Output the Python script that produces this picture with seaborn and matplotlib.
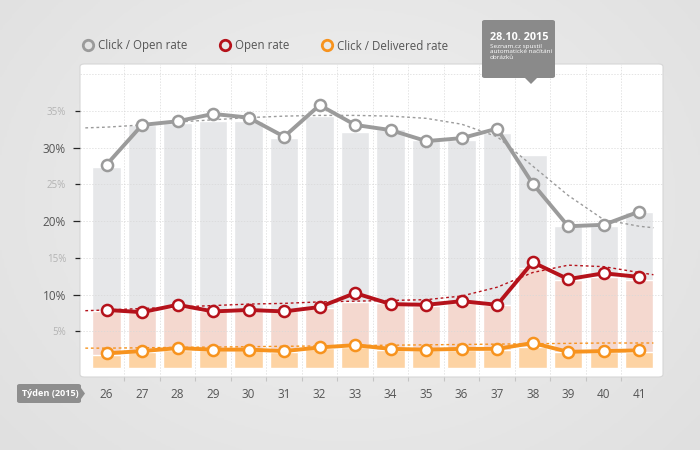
import numpy as np
import matplotlib
matplotlib.use('Agg')
import matplotlib.pyplot as plt
from matplotlib.patches import FancyBboxPatch, Polygon
from matplotlib.lines import Line2D
import seaborn as sns

sns.set_theme(style='white')
plt.rcParams['font.family'] = ['Open Sans', 'DejaVu Sans']

# --- data ---
weeks = [26, 27, 28, 29, 30, 31, 32, 33, 34, 35, 36, 37, 38, 39, 40, 41]

click_open = [27.7, 33.1, 33.6, 34.6, 34.1, 31.5, 35.8, 33.1, 32.4, 30.9, 31.3, 32.6, 25.1, 19.3, 19.5, 21.3]
open_rate = [7.9, 7.6, 8.6, 7.7, 7.9, 7.7, 8.3, 10.2, 8.7, 8.6, 9.1, 8.6, 14.4, 12.1, 12.9, 12.4]
click_deliv = [2.0, 2.3, 2.7, 2.5, 2.5, 2.3, 2.8, 3.1, 2.6, 2.5, 2.6, 2.6, 3.4, 2.2, 2.3, 2.4]

bars_click_open = [27.4, 33.1, 33.4, 33.7, 33.7, 31.3, 34.3, 32.2, 32.6, 31.1, 31.1, 32.0, 29.0, 19.3, 19.3, 21.2]
bars_open = [7.8, 7.7, 8.2, 7.7, 7.7, 7.7, 8.2, 9.0, 8.9, 8.4, 8.9, 8.6, 13.6, 12.0, 12.4, 12.0]
bars_deliv = [1.8, 2.2, 2.45, 2.45, 2.45, 2.2, 2.7, 2.9, 2.45, 2.45, 2.45, 2.45, 2.9, 2.2, 2.2, 2.2]

trend_x = [25.4, 26, 27, 28, 29, 30, 31, 32, 33, 34, 35, 36, 37, 38, 39, 40, 41, 41.4]
trend_click_open = [32.7, 32.8, 33.1, 33.5, 33.8, 34.1, 34.3, 34.4, 34.4, 34.3, 34.0, 33.2, 31.5, 27.5, 23.5, 20.2, 19.3, 19.1]
trend_open = [7.8, 7.9, 8.1, 8.3, 8.5, 8.7, 8.8, 9.0, 9.1, 9.2, 9.3, 9.8, 11.0, 13.0, 14.0, 13.8, 13.0, 12.7]
trend_deliv = [2.7, 2.7, 2.75, 2.8, 2.85, 2.9, 2.95, 3.0, 3.05, 3.1, 3.15, 3.2, 3.25, 3.3, 3.35, 3.4, 3.4, 3.4]

y_ticks = [5, 10, 15, 20, 25, 30, 35]
y_major = [10, 20, 30]

series = [
    ('Click / Open rate', click_open, bars_click_open, trend_click_open, '#9b9b9b', '#e6e7e9'),
    ('Open rate', open_rate, bars_open, trend_open, '#b5121b', '#f4d8cf'),
    ('Click / Delivered rate', click_deliv, bars_deliv, trend_deliv, '#f7931e', '#fdd3a3'),
]

W, H = 700, 450
fig = plt.figure(figsize=(7, 4.5), dpi=100)

# soft grey background
bg = fig.add_axes([0, 0, 1, 1], zorder=-10)
yy, xx = np.mgrid[0:1:200j, 0:1:300j]
rr = np.sqrt((xx - 0.5) ** 2 + ((yy - 0.45) * 0.8) ** 2)
bg.imshow(rr, cmap=sns.light_palette('#dedede', as_cmap=True, reverse=False),
          vmin=0, vmax=0.75, extent=[0, 1, 0, 1], aspect='auto')
bg.axis('off')

# white panel
px0, px1, py0, py1 = 80, 663, 64, 377
panel = FancyBboxPatch((px0 / W, 1 - py1 / H), (px1 - px0) / W, (py1 - py0) / H,
                       boxstyle='round,pad=0,rounding_size=0.006', transform=fig.transFigure,
                       fc='white', ec='#d6d6d6', lw=0.8, zorder=-5)
fig.add_artist(panel)

ax = fig.add_axes([px0 / W, 1 - py1 / H, (px1 - px0) / W, (py1 - py0) / H])
ax.patch.set_alpha(0)

# vertical + horizontal grid
for xv in np.arange(26.5, 41, 1):
    ax.axvline(xv, color='#e4e4e4', lw=0.7, ls=(0, (1.5, 1.5)), zorder=0)

for name, vals, bvals, tvals, col, bcol in series:
    sns.barplot(x=weeks, y=bvals, native_scale=True, width=0.8, color=bcol,
                saturation=1, errorbar=None, ax=ax, zorder=1)

for yv in y_ticks + [40]:
    ax.axhline(yv, color='#d8d8d8', lw=0.7, ls=(0, (1.5, 1.5)), alpha=0.7, zorder=2)

for name, vals, bvals, tvals, col, bcol in series:
    ax.plot(trend_x, tvals, color=col, lw=1.0, ls=(0, (2, 2)), zorder=3)
    sns.lineplot(x=weeks, y=vals, color=col, lw=2.8, marker='o', markersize=8,
                 markerfacecolor='white', markeredgecolor=col, markeredgewidth=1.8,
                 ax=ax, zorder=4)

ax.set_xlim(25.25, 41.67)
ax.set_ylim(-1.23, 41.4)
for s in ax.spines.values():
    s.set_visible(False)
ax.set_xlabel('')
ax.set_ylabel('')

ax.set_xticks(weeks)
ax.set_xticklabels([str(w) for w in weeks])
ax.set_xticks(np.arange(26.5, 41, 1), minor=True)
ax.tick_params(axis='x', which='major', length=0, pad=8, labelsize=8.5, labelcolor='#555555')
ax.tick_params(axis='x', which='minor', length=3, width=0.8, color='#c4c4c4', direction='out', bottom=True)

ax.set_yticks(y_ticks)
ax.set_yticklabels([f'{v}%' for v in y_ticks])
ax.tick_params(axis='y', which='major', left=True, direction='out', length=4, width=0.9, pad=6)
for tick, v in zip(ax.yaxis.get_major_ticks(), y_ticks):
    if v in y_major:
        tick.label1.set_color('#555555')
        tick.label1.set_fontsize(8.5)
        tick.tick1line.set_color('#555555')
        tick.tick1line.set_markersize(5)
    else:
        tick.label1.set_color('#b3b3b3')
        tick.label1.set_fontsize(7)
        tick.tick1line.set_color('#cccccc')
        tick.tick1line.set_markersize(3.5)

# legend
handles = [Line2D([], [], ls='none', marker='o', ms=7.5, mfc='none', mec=c, mew=2)
           for _, _, _, _, c, _ in series]
fig.legend(handles, [s[0] for s in series], loc='center left',
           bbox_to_anchor=(73 / W, 1 - 46 / H), ncol=3, frameon=False, fontsize=8.3,
           handlelength=0.8, handletextpad=0.45, columnspacing=2.9, labelcolor='#555555')

# x-axis tag
tag = FancyBboxPatch((17 / W, 1 - 403 / H), 64 / W, 19 / H,
                     boxstyle='round,pad=0,rounding_size=0.004', transform=fig.transFigure,
                     fc='#8e8e8e', ec='none')
fig.add_artist(tag)
fig.add_artist(Polygon([(81 / W, 1 - 388 / H), (85 / W, 1 - 393.5 / H), (81 / W, 1 - 399 / H)],
                       closed=True, transform=fig.transFigure, fc='#8e8e8e', ec='none'))
fig.text(50 / W, 1 - 393.5 / H, 'Týden (2015)', color='white', fontsize=6.6,
         fontweight='bold', ha='center', va='center')

# annotation box
tip = FancyBboxPatch((482 / W, 1 - 78 / H), 73 / W, 58 / H,
                     boxstyle='round,pad=0,rounding_size=0.004', transform=fig.transFigure,
                     fc='#8a8a8a', ec='none')
fig.add_artist(tip)
fig.add_artist(Polygon([(525 / W, 1 - 78 / H), (537 / W, 1 - 78 / H), (531 / W, 1 - 84 / H)],
                       closed=True, transform=fig.transFigure, fc='#8a8a8a', ec='none'))
fig.text(490 / W, 1 - 37 / H, '28.10. 2015', color='white', fontsize=7.8,
         fontweight='bold', ha='left', va='center')
fig.text(490 / W, 1 - 44 / H, 'Seznam.cz spustil\nautomatické načítání\nobrázků',
         color='white', fontsize=4.6, ha='left', va='top', linespacing=1.1)

fig.savefig('out.png', dpi=100)
plt.close()
